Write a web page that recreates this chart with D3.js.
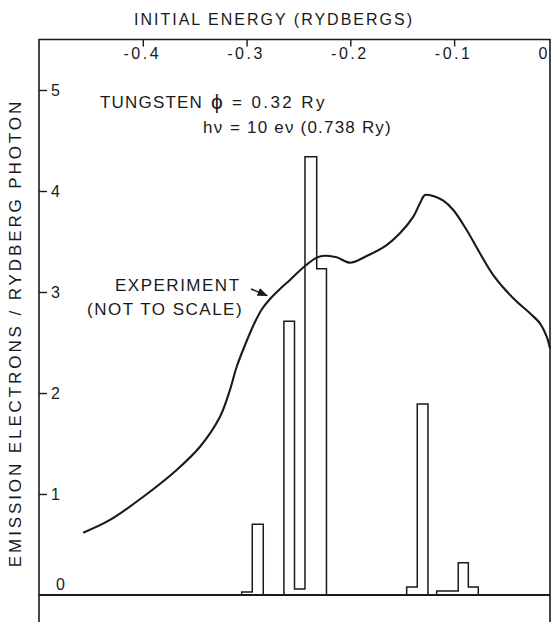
<!DOCTYPE html>
<html><head><meta charset="utf-8">
<script src="https://cdn.jsdelivr.net/npm/d3@7"></script>
<style>
body{margin:0;background:#fff}
svg{display:block}
text{font-family:"Liberation Sans",Arial,sans-serif;fill:#1a1a1a}
</style>
</head><body>
<svg id="c" width="552" height="622"></svg>
<script>
// ---- data ----
const xTicks = [-0.4, -0.3, -0.2, -0.1, 0];
const yTicks = [0, 1, 2, 3, 4, 5];

// calculated histogram (step bins): left edge, right edge, value
const histLeft  = [-0.3047, -0.2945, -0.2839, -0.2640, -0.2538, -0.2437, -0.2324,
                   -0.1457, -0.1355, -0.1252, -0.1168, -0.0960, -0.0863];
const histRight = [-0.2945, -0.2839, -0.2640, -0.2538, -0.2437, -0.2324, -0.2230,
                   -0.1355, -0.1252, -0.1168, -0.0960, -0.0863, -0.0767];
const histValue = [0.03, 0.70, 0.00, 2.71, 0.06, 4.34, 3.23,
                   0.08, 1.89, 0.00, 0.04, 0.32, 0.08];

// experiment curve (not to scale)
const expEnergy = [-0.4574, -0.4316, -0.3995, -0.3674, -0.3449, -0.3256, -0.3160, -0.3095,
                   -0.2999, -0.2919, -0.2851, -0.2774, -0.2678, -0.2582, -0.2437, -0.2324,
                   -0.2244, -0.2132, -0.2003, -0.1843, -0.1650, -0.1522, -0.1393, -0.1329,
                   -0.1281, -0.1201, -0.1104, -0.1008, -0.0879, -0.0751, -0.0623, -0.0430,
                   -0.0269, -0.0173, -0.0108, -0.0076];
const expValue  = [0.617, 0.743, 0.973, 1.238, 1.468, 1.765, 2.030, 2.260,
                   2.515, 2.703, 2.832, 2.931, 3.030, 3.119, 3.257, 3.340,
                   3.359, 3.344, 3.290, 3.356, 3.465, 3.581, 3.746, 3.878,
                   3.960, 3.950, 3.904, 3.812, 3.614, 3.383, 3.168, 2.938,
                   2.789, 2.690, 2.557, 2.440];

// arrow for "EXPERIMENT" label (data units): start, end
const arrowEnergy = [-0.2957, -0.2803];
const arrowValue  = [3.03, 2.965];

// ---- layout ----
const svg = d3.select("#c");
const plotL = 39, plotR = 550, plotT = 39.5, plotB = 595;
const x = d3.scaleLinear().domain([-0.5, -0.0076]).range([plotL, plotR]).clamp(true);
const y = d3.scaleLinear().domain([0, 5.5]).range([plotB, plotT]);
const ink = "#1a1a1a";

svg.append("rect").attr("width", 552).attr("height", 622).attr("fill", "#fff");

// frame (extends below baseline)
svg.append("path")
  .attr("d", `M${plotL},640V${plotT}H${plotR}V640`)
  .attr("fill", "none").attr("stroke", ink).attr("stroke-width", 1.6);
// zero baseline
svg.append("line").attr("x1", plotL).attr("x2", plotR)
  .attr("y1", y(0)).attr("y2", y(0))
  .attr("stroke", ink).attr("stroke-width", 1.8);

// top axis
const xa = svg.append("g").attr("transform", `translate(0,${plotT})`)
  .call(d3.axisBottom(x).tickValues(xTicks).tickSize(7).tickPadding(1)
    .tickFormat(d => d === 0 ? "0" : "-" + Math.abs(d).toFixed(1)));
xa.select(".domain").remove();
xa.selectAll(".tick line").attr("stroke", ink).attr("stroke-width", 1.4);
xa.selectAll(".tick text").attr("font-size", 16).attr("letter-spacing", "2.5px")
  .attr("fill", ink).attr("dx", -1);
xa.selectAll(".tick").filter(d => d === 0).select("line").remove();
xa.selectAll(".tick").filter(d => d === 0).select("text")
  .attr("text-anchor", "end").attr("dx", -3).attr("letter-spacing", 0);

// left axis
const ya = svg.append("g").attr("transform", `translate(${plotL},0)`)
  .call(d3.axisRight(y).tickValues(yTicks).tickSize(8).tickPadding(4).tickFormat(d3.format("d")));
ya.select(".domain").remove();
ya.selectAll(".tick line").attr("stroke", ink).attr("stroke-width", 1.4);
ya.selectAll(".tick text").attr("font-size", 16).attr("fill", ink);
ya.selectAll(".tick").filter(d => d === 0).select("line").remove();
ya.selectAll(".tick").filter(d => d === 0).select("text").attr("x", 17).attr("y", -11);

// axis titles
svg.append("text").attr("x", 274).attr("y", 25).attr("text-anchor", "middle")
  .attr("font-size", 16).attr("letter-spacing", "2px").text("INITIAL ENERGY (RYDBERGS)");
svg.append("text").attr("transform", "translate(21,333) rotate(-90)")
  .attr("text-anchor", "middle").attr("font-size", 17).attr("letter-spacing", "2.9px")
  .text("EMISSION ELECTRONS / RYDBERG PHOTON");

// histogram step outline
const stepPts = [];
histLeft.forEach((l, i) => {
  const prevRight = i > 0 ? histRight[i - 1] : null;
  if (prevRight === null || Math.abs(prevRight - l) > 1e-6) {
    if (prevRight !== null) stepPts.push([prevRight, 0]);
    stepPts.push([l, 0]);
  }
  stepPts.push([l, histValue[i]]);
  stepPts.push([histRight[i], histValue[i]]);
});
stepPts.push([histRight[histRight.length - 1], 0]);
svg.append("path")
  .attr("d", d3.line().x(d => x(d[0])).y(d => y(d[1]))(stepPts))
  .attr("fill", "none").attr("stroke", ink).attr("stroke-width", 1.5)
  .attr("stroke-linejoin", "miter");

// experiment curve
const expPts = expEnergy.map((e, i) => [e, expValue[i]]);
svg.append("path")
  .attr("d", d3.line().x(d => x(d[0])).y(d => y(d[1])).curve(d3.curveCatmullRom)(expPts))
  .attr("fill", "none").attr("stroke", ink).attr("stroke-width", 2.1);

// annotations
const t1 = svg.append("g").attr("font-size", 17).attr("letter-spacing", "1.2px");
t1.append("text").attr("x", 100).attr("y", 108).text("TUNGSTEN");
t1.append("text").attr("x", 211).attr("y", 109).attr("font-size", 21).attr("font-family", "DejaVu Sans").text("ϕ");
t1.append("text").attr("x", 232).attr("y", 108).attr("letter-spacing", "2.4px").text("= 0.32 Ry");
t1.append("text").attr("x", 203).attr("y", 133).text("hν");
t1.append("text").attr("x", 230).attr("y", 133).text("= 10 eν (0.738 Ry)");

const t2 = svg.append("g").attr("font-size", 17).attr("letter-spacing", "1.5px");
t2.append("text").attr("x", 115).attr("y", 291).text("EXPERIMENT");
t2.append("text").attr("x", 87).attr("y", 315).text("(NOT TO SCALE)");

// arrow
svg.append("defs").append("marker").attr("id", "ah")
  .attr("viewBox", "0 0 10 10").attr("refX", 9).attr("refY", 5)
  .attr("markerWidth", 7).attr("markerHeight", 7).attr("orient", "auto")
  .append("path").attr("d", "M0,1L10,5L0,9Z").attr("fill", ink);
svg.append("line")
  .attr("x1", x(arrowEnergy[0])).attr("y1", y(arrowValue[0]))
  .attr("x2", x(arrowEnergy[1])).attr("y2", y(arrowValue[1]))
  .attr("stroke", ink).attr("stroke-width", 1.5).attr("marker-end", "url(#ah)");
</script>
</body></html>
